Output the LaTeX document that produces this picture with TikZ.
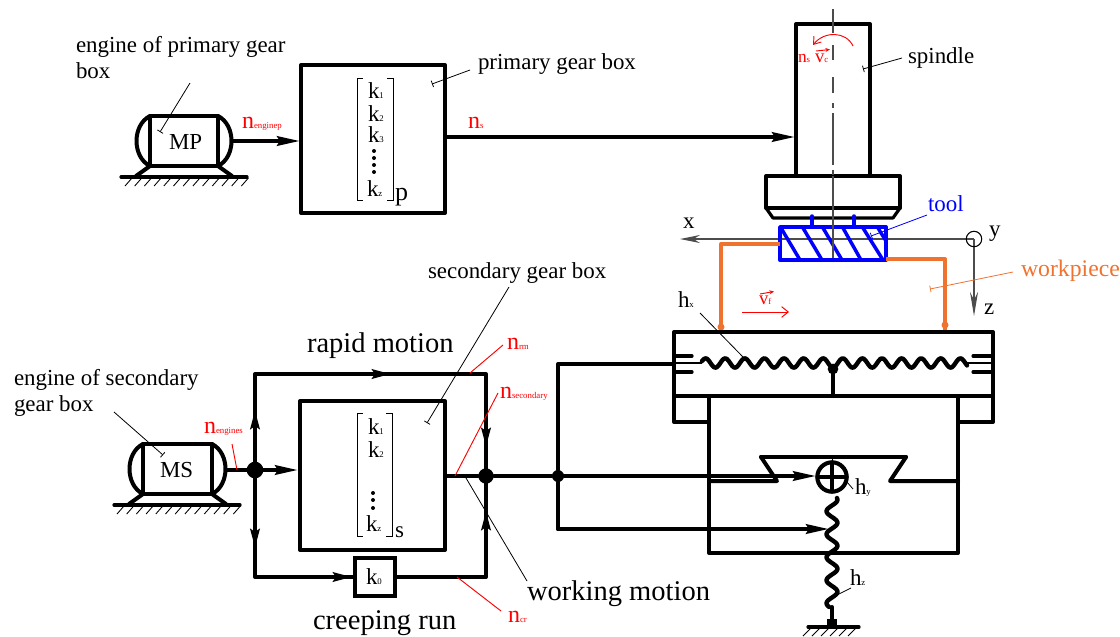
\documentclass[tikz,border=0pt]{standalone}
\usepackage{fontspec}
\setmainfont{Liberation Serif}
\usetikzlibrary{arrows.meta}
\newcommand{\sbt}[1]{{\fontsize{6.6}{8}\selectfont #1}}
\definecolor{orng}{HTML}{F0722F}
\tikzset{
  x=0.75pt,y=-0.75pt,
  lbl/.style={anchor=base west,inner sep=0pt,outer sep=0pt,font=\fontsize{17.2}{20}\selectfont},
  big/.style={lbl,font=\fontsize{21.4}{24}\selectfont},
  redlbl/.style={lbl,text=red},
  heavy/.style={line width=3pt,line cap=round,line join=round},
  screw/.style={line width=3.3pt,line cap=round,line join=round},
  med/.style={line width=2.4pt,line cap=round,line join=round},
  thinl/.style={line width=0.65pt},
  arr/.style={heavy,-{Stealth[length=17pt,width=7pt,inset=2pt]}},
  arrv/.style={heavy,-{Stealth[length=14pt,width=6.8pt,inset=2pt]}},
  lead/.style={line width=0.6pt,-{Bar[width=5pt,line width=0.6pt]}},
  redl/.style={line width=0.7pt,red},
  dotn/.style={circle,fill=black,inner sep=0pt,minimum size=#1},
  brk/.style={line width=0.6pt},
  cline/.style={line width=1.1pt,black!70},
}
\begin{document}
\begin{tikzpicture}
\useasboundingbox (0,0) rectangle (1120,636);
\coordinate (yax) at (974,239);
\coordinate (xtip) at (680,239);
\coordinate (ztip) at (974,316);
\draw[line width=0.9pt,black!70,-{Stealth[length=15pt,width=6pt]}] (yax) -- (xtip);
\draw[line width=0.9pt,black!70,-{Stealth[length=18pt,width=6pt]}] (yax) -- (ztip);
\node[draw,circle,line width=0.8pt,minimum size=11.6pt,inner sep=0pt] (ycirc) at (yax) {};
%% ---- motor MP
\coordinate (mpc) at (232,141);
\draw[heavy] (150,116) rectangle (218,166);
\draw[heavy] (150,116) .. controls (132,125) and (132,157) .. (150,166);
\draw[heavy] (218,116) .. controls (236,125) and (236,157) .. (218,166);
\draw[heavy] (150,166) -- (136,176);
\draw[heavy] (218,166) -- (232,176);
\draw[med] (121,177) -- (247,177);
\foreach \i in {0,...,12} \draw[thinl] ({132+\i*9.7},178) -- ({125+\i*9.7},186);
%% primary box
\draw[heavy] (301,65) rectangle (445,213);
\coordinate (pbL) at (300,141);
\coordinate (pbR) at (445,137);
\coordinate (spL) at (795,137);
\draw[arr] (mpc) -- (pbL);
\draw[arr] (pbR) -- (spL);
\draw[brk] (363,78) -- (357,78) -- (357,200) -- (363,200);
\draw[brk] (387,78) -- (393,78) -- (393,200) -- (387,200);
\node[lbl] (pk1) at (368,98) {k\sbt{1}};
\node[lbl] (pk2) at (368,121) {k\sbt{2}};
\node[lbl] (pk3) at (368,142) {k\sbt{3}};
\node[lbl] (pkz) at (367,196) {k\sbt{z}};
\node[lbl,font=\fontsize{19.5}{22}\selectfont] (pp) at (395,200) {p};
\foreach \y in {151,158,165,172} \fill (374,\y) circle (2);
%% spindle
\draw[heavy] (796,176) -- (796,24) -- (870,24) -- (870,176);
\draw[heavy] (766,176) rectangle (900,208);
\draw[med] (766,208) -- (773,218) -- (893,218) -- (900,208);
%% tool
\begin{scope}[blue,line cap=round,line join=round]
\draw[line width=2.6pt] (812,216) -- (812,227);
\draw[line width=2.6pt] (854,216) -- (854,227);
\foreach \a/\b in {781/800,803/822,823/842,843/861,863/883} \draw[line width=2.6pt] (\a,228) -- (\b,260);
\draw[line width=2.6pt] (878,228) -- (886,241);
\draw[line width=2.9pt] (780,227) rectangle (886,260);
\end{scope}
%% centre line
\draw[cline] (833,9) -- (833,33) (833,45) -- (833,60) (833,77) -- (833,93) (833,103) -- (833,108)
  (833,113) -- (833,165) (833,170) -- (833,175) (833,176) -- (833,258);
%% workpiece
\coordinate (wl) at (721,331);
\coordinate (wr) at (945,331);
\draw[orng,line width=3pt,line join=round] (780,244) -- (721,244) -- (wl);
\draw[orng,line width=3pt,line join=round] (886,259) -- (945,259) -- (wr);
\fill[orng] (721,327) circle (3.5);
\fill[orng] (945,325) circle (3.5);
%% table
\draw[heavy] (674,332) rectangle (993,396);
\draw[heavy] (674,396) -- (674,422) -- (709,422);
\draw[heavy] (993,396) -- (993,422) -- (958,422);
\draw[heavy] (709,396) rectangle (958,553);
\draw[heavy] (761,457) -- (906,457);
\draw[heavy] (709,481) -- (777,481) -- (761,457);
\draw[heavy] (958,481) -- (890,481) -- (906,457);
%% x screw
\draw[screw] plot[domain=702:967,samples=160,smooth] (\x,{363+4.7*cos((\x-833)/19.6*360)});
\draw[med] (674,356) -- (692,356);
\draw[med] (674,372) -- (692,372);
\draw[med] (973,356) -- (993,356);
\draw[med] (973,372) -- (993,372);
\draw[line width=1.2pt] (674,363) -- (702,363);
\draw[line width=1.2pt] (967,363) -- (993,363);
\draw[heavy] (833,368) -- (833,396);
\node[dotn=8pt] (nutx) at (833,369) {};
%% y handwheel
\node[draw,circle,line width=3.1pt,minimum size=22pt,inner sep=0pt] (hy) at (832,477) {};
\draw[med] (817,477) -- (847,477);
\draw[med] (832,462) -- (832,492);
\draw[line width=0.7pt] (832,457) -- (832,462);
%% z screw
\draw[screw] plot[domain=0:109,samples=80,smooth] ({832+5.5*sin((\x+4)/23*360)},{498+\x});
\coordinate (zs) at (832,529);
\coordinate (zb) at (832,607);
\coordinate (zg) at (832,624);
\draw[heavy] (zb) -- (zg);
\fill (827,619) rectangle (837,627);
\draw[med] (808,627) -- (859,627);
\foreach \i in {0,...,5} \draw[thinl] ({811+\i*9},628) -- ({803+\i*9},636);
%% motor MS
\draw[heavy] (143,444) rectangle (212,494);
\draw[heavy] (143,444) .. controls (125,453) and (125,485) .. (143,494);
\draw[heavy] (212,444) .. controls (230,453) and (230,485) .. (212,494);
\draw[heavy] (143,494) -- (129,504);
\draw[heavy] (212,494) -- (226,504);
\draw[med] (114,505) -- (240,505);
\foreach \i in {0,...,12} \draw[thinl] ({124+\i*9.7},506) -- ({117+\i*9.7},514);
\coordinate (msc) at (226,470);
\node[dotn=12.5pt] (j1) at (255,470) {};
\draw[heavy] (msc) -- (j1);
%% secondary box
\draw[heavy] (300,401) rectangle (445,550);
\coordinate (sbL) at (298,470);
\coordinate (sbR) at (445,476);
\draw[arr] (j1) -- (sbL);
\draw[brk] (363,413) -- (357,413) -- (357,536) -- (363,536);
\draw[brk] (386,413) -- (392,413) -- (392,536) -- (386,536);
\node[lbl] (sk1) at (368,434) {k\sbt{1}};
\node[lbl] (sk2) at (368,457) {k\sbt{2}};
\node[lbl] (skz) at (366,531) {k\sbt{z}};
\node[lbl] (ss) at (395,537) {s};
\foreach \y in {493,500,508} \fill (373,\y) circle (2);
%% bypass frame
\coordinate (tl) at (255,374);
\coordinate (tr) at (486,374);
\coordinate (bl) at (255,577);
\coordinate (br) at (486,577);
\node[dotn=11.5pt] (j2) at (486,476) {};
\node[draw,line width=3pt,minimum width=30pt,minimum height=28.5pt,inner sep=0pt] (k0) at (374.5,577) {};
\draw[heavy] (j1) -- (tl) -- (tr) -- (br) -- (k0.east);
\draw[heavy] (j1) -- (bl) -- (k0.west);
\coordinate (aup) at (255,410);
\coordinate (adn) at (255,548);
\coordinate (atop) at (391,374);
\coordinate (abot) at (352,577);
\coordinate (ardn) at (486,447);
\coordinate (arup) at (486,511);
\draw[arrv] (255,440) -- (aup);
\draw[arrv] (255,518) -- (adn);
\draw[arrv] (350,374) -- (atop);
\draw[arrv] (305,577) -- (abot);
\draw[arrv] (486,420) -- (ardn);
\draw[arrv] (486,538) -- (arup);
%% output shafts
\node[dotn=9pt] (j3) at (558,476) {};
\draw[heavy] (sbR) -- (j2) -- (j3);
\coordinate (hyin) at (816,476);
\draw[arr] (j3) -- (hyin);
\coordinate (t1) at (558,364);
\coordinate (t2) at (674,364);
\coordinate (b1) at (558,529);
\coordinate (b2) at (829,529);
\draw[heavy] (t2) -- (t1) -- (j3) -- (b1);
\draw[arr] (b1) -- (b2);
%% texts
\node[lbl] (ep1) at (76,52) {engine of primary gear};
\node[lbl] (ep2) at (76,78) {box};
\node[lbl] (mp) at (169,149) {MP};
\node[lbl] (pgb) at (478,69) {primary gear box};
\node[lbl] (spd) at (908,63) {spindle};
\node[lbl] (xl) at (683,228) {x};
\node[lbl] (yl) at (989,236) {y};
\node[lbl] (zl) at (984,314) {z};
\node[lbl,text=blue] (tool) at (928,211) {tool};
\node[lbl,text=orng,font=\fontsize{17.8}{20}\selectfont] (wp) at (1021,276) {workpiece};
\node[lbl] (hx) at (678,307) {h\sbt{x}};
\node[lbl] (hyl) at (855,494) {h\sbt{y}};
\node[lbl] (hz) at (850,585) {h\sbt{z}};
\node[lbl] (sgb) at (428,278) {secondary gear box};
\node[big] (rm) at (307,352) {rapid motion};
\node[big] (wm) at (527,600) {working motion};
\node[big] (cr) at (313,629) {creeping run};
\node[lbl] (es1) at (14,385) {engine of secondary};
\node[lbl] (es2) at (14,411) {gear box};
\node[lbl] (ms) at (160,477) {MS};
\node[lbl] (k0l) at (366,584) {k\sbt{0}};
%% red labels
\node[redlbl,font=\fontsize{18}{20}\selectfont] (nep) at (242,128) {n\sbt{enginep}};
\node[redlbl,font=\fontsize{18}{20}\selectfont] (nsl) at (468,128) {n\sbt{s}};
\node[redlbl,font=\fontsize{18}{20}\selectfont] (nes) at (204,433) {n\sbt{engines}};
\node[redlbl,font=\fontsize{18}{20}\selectfont] (nrm) at (507,349) {n\sbt{rm}};
\node[redlbl,font=\fontsize{18}{20}\selectfont] (nsec) at (500,398) {n\sbt{secondary}};
\node[redlbl,font=\fontsize{18}{20}\selectfont] (ncr) at (508,622) {n\sbt{cr}};
\node[redlbl,font=\fontsize{13}{15}\selectfont] (ns2) at (798,62) {n\sbt{s}};
\node[redlbl,font=\fontsize{14}{15}\selectfont] (vc) at (815,62) {v\sbt{c}};
\node[redlbl,font=\fontsize{14}{15}\selectfont] (vf) at (759,304) {v\sbt{f}};
%% red arrows
\coordinate (ra) at (853,46);
\coordinate (rb) at (813,45);
\draw[redl,-{Straight Barb[length=5pt,width=7pt]}] (ra) .. controls (846,31) and (824,31) .. (rb);
\draw[redl,-{Stealth[length=3.5pt,width=3pt]}] (816,51) -- (830,49.5);
\draw[redl,-{Stealth[length=3.5pt,width=3pt]}] (760,294) -- (774,291.5);
\draw[redl,-{Straight Barb[length=5pt,width=8pt]}] (742,312) -- (789,312);
%% leaders
\draw[lead] (190,83) -- (160,132);
\draw[lead] (470,70) -- (432,84);
\draw[lead] (902,58) -- (863,69);
\draw[lead] (509,287) -- (427,423);
\draw[lead] (114,412) -- (163,455);
\draw[line width=0.6pt] (700,313) -- (743,357);
\draw[line width=0.6pt] (847,482) -- (853,489);
\draw[line width=0.6pt] (851,588) -- (837,595);
\draw[line width=0.6pt] (466,478) -- (527,581);
\draw[lead,blue] (927,215) -- (871,236);
\draw[lead,orng] (1013,272) -- (930,289);
\draw[redl] (503,345) -- (470,373);
\draw[redl] (498,393) -- (455,476);
\draw[redl] (501,611) -- (457,577);
\draw[redl] (232,444) -- (237,470);
\end{tikzpicture}
\end{document}
